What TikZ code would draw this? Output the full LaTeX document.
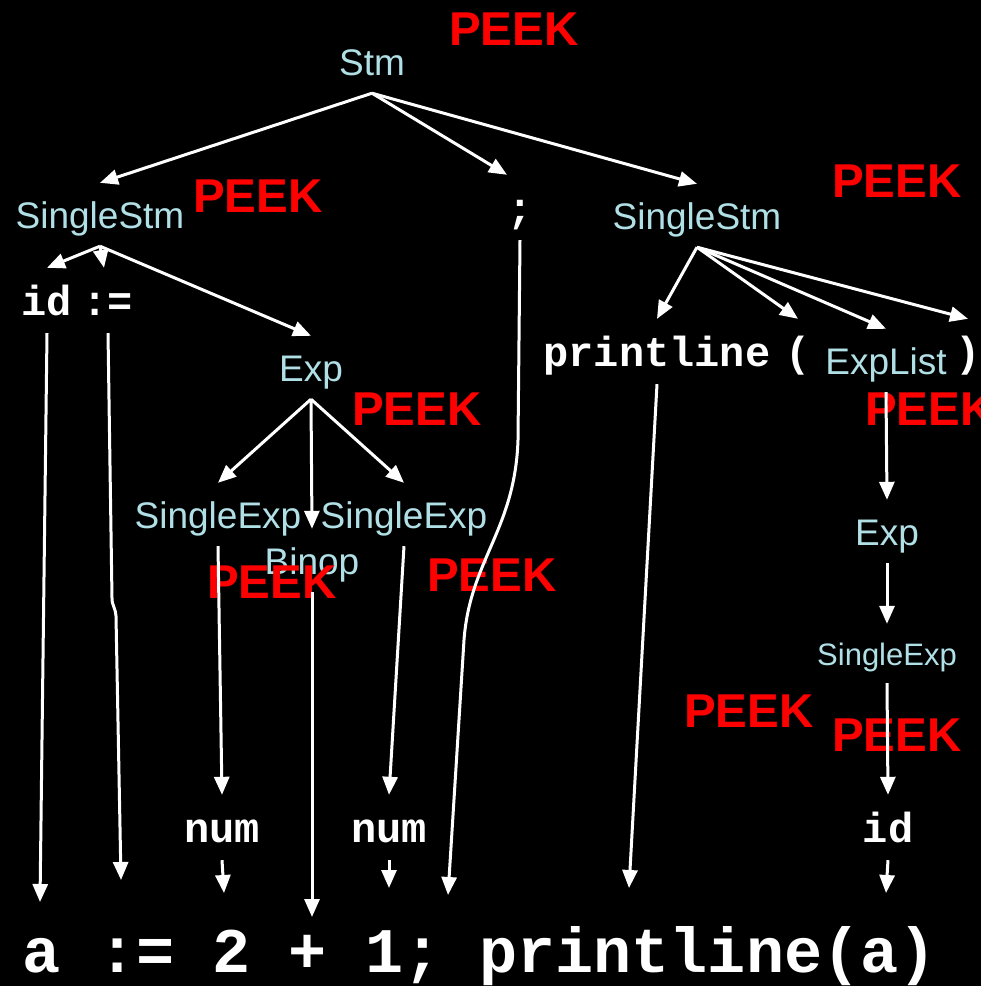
\documentclass[tikz,border=0pt]{standalone}
\usepackage{fontspec}
\setmainfont{Liberation Sans}
\newfontfamily\codefont{Liberation Mono}
\usetikzlibrary{arrows.meta}
\definecolor{labelblue}{RGB}{176,224,230}
\definecolor{peekred}{RGB}{255,0,0}
\begin{document}
\begin{tikzpicture}[x=1pt,y=-1pt,
  sym/.style={anchor=base, text=labelblue, font=\fontsize{37}{40}\selectfont,
    inner xsep=0pt, inner ysep=18pt, text height=27pt, text depth=0pt},
  smallsym/.style={sym, font=\fontsize{31}{34}\selectfont, text height=23pt},
  tok/.style={anchor=base, text=white, font=\codefont\bfseries\fontsize{42}{44}\selectfont,
    inner xsep=0pt, inner ysep=18pt, text height=29pt, text depth=0pt},
  peek/.style={anchor=base west, text=peekred, font=\bfseries\fontsize{47.5}{50}\selectfont, inner sep=0pt},
  arr/.style={draw=white, line width=3pt, -{Triangle[length=18pt,width=15pt]}},
]
% background
\useasboundingbox[fill=black] (0,0) rectangle (981,986);

% parse tree symbols
\node[sym] (stm) at (372,75) {Stm};
\node[sym] (ssL) at (100,228) {SingleStm};
\node[tok] (semi) at (520,222) {;};
\node[sym] (ssR) at (697,229) {SingleStm};
\node[tok] (id) at (47,315) {id};
\node[tok] (assign) at (108,315) {:=};
\node[sym] (exp) at (311,381) {Exp};
\node[tok] (println) at (657,366) {printline};
\node[tok] (lpar) at (798,366) {(};
\node[sym] (explist) at (886,374) {ExpList};
\node[tok] (rpar) at (968,366) {)};
\node[sym] (seL) at (218,528) {SingleExp};
\node[sym] (seR) at (404,528) {SingleExp};
\node[sym] (binop) at (312,574) {Binop};
\node[sym] (exp2) at (887,545) {Exp};
\node[smallsym] (se2) at (887,665) {SingleExp};
\node[tok] (num1) at (222,842) {num};
\node[tok] (num2) at (389,842) {num};
\node[tok] (id2) at (888,842) {id};

% source text
\node[anchor=base west, text=white, font=\codefont\bfseries\fontsize{63.5}{66}\selectfont, inner sep=0pt]
  (src) at (22,972) {a := 2 + 1; printline(a)};

% lookahead marks
\node[peek] (p1) at (449,45) {PEEK};
\node[peek] (p2) at (193,212) {PEEK};
\node[peek] (p3) at (832,197) {PEEK};
\node[peek] (p4) at (352,425) {PEEK};
\node[peek] (p5) at (865,425) {PEEK};
\node[peek] (p6) at (207,598) {PEEK};
\node[peek] (p7) at (427,591) {PEEK};
\node[peek] (p8) at (684,727) {PEEK};
\node[peek] (p9) at (832,751) {PEEK};

% arrow ends on the source line
\coordinate (ta) at (40,902);
\coordinate (tb) at (121,880);
\coordinate (tc) at (224,893);
\coordinate (td) at (312,917);
\coordinate (te) at (389,888);
\coordinate (tf) at (448,895);
\coordinate (tg) at (629,888);
\coordinate (th) at (886,893);

% tree edges
\draw[arr] (stm.south) -- (ssL.north);
\draw[arr] (stm.south) -- ([xshift=-13pt]semi.north);
\draw[arr] (stm.south) -- (ssR.north);
\draw[arr] (ssL.south) -- (id.north);
\draw[arr] (ssL.south) -- ([xshift=-4pt]assign.north);
\draw[arr] (ssL.south) -- (exp.north);
\draw[arr] (exp.south) -- (seL.north);
\draw[arr] (exp.south) -- (binop.north);
\draw[arr] (exp.south) -- (seR.north);
\draw[arr] (ssR.south) -- (println.north);
\draw[arr] (ssR.south) -- (lpar.north);
\draw[arr] (ssR.south) -- (explist.north);
\draw[arr] (ssR.south) -- (rpar.north);
\draw[arr] (explist.south) -- (exp2.north);
\draw[arr] (exp2.south) -- (se2.north);
\draw[arr] (se2.south) -- (id2.north);
\draw[arr] (seL.south) -- (num1.north);
\draw[arr] (seR.south) -- (num2.north);

% edges down to the source text
\draw[arr] (id.south) -- (ta);
\draw[arr] (assign.south) -- (112,598) .. controls (112,606) and (115,606) .. (116,616) -- (tb);
\draw[arr] (num1.south) -- (tc);
\draw[arr] (binop.south) -- (td);
\draw[arr] (num2.south) -- (te);
\draw[arr] (semi.south) -- (518,440) .. controls (515,530) and (470,560) .. (464,640) -- (tf);
\draw[arr] (println.south) -- (tg);
\draw[arr] (id2.south) -- (th);
\end{tikzpicture}
\end{document}
